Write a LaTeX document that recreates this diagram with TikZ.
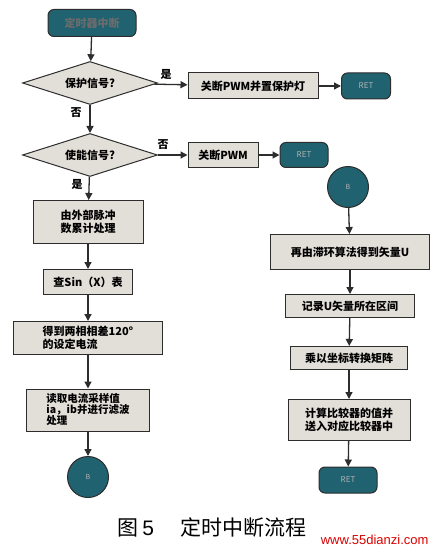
\documentclass[tikz,border=0pt]{standalone}
\usepackage{fontspec}
\setmainfont{Noto Sans CJK SC}
\newfontfamily\latinfont{Liberation Sans}
\usetikzlibrary{shapes.geometric, arrows.meta, positioning}

\definecolor{tealfill}{RGB}{32,98,112}
\definecolor{boxfill}{RGB}{226,222,216}
\definecolor{linecol}{RGB}{45,45,45}

\tikzset{
  proc/.style={draw=linecol, line width=1pt, fill=boxfill, font=\bfseries\fontsize{11}{12.5}\selectfont, inner sep=2pt},
  decide/.style={draw=linecol, line width=1pt, fill=boxfill, diamond, aspect=3.1, inner sep=0pt, minimum width=135pt, minimum height=43pt, font=\bfseries\fontsize{11}{12}\selectfont},
  term/.style={draw=linecol, line width=1pt, fill=tealfill, rounded corners=6pt, font=\fontsize{8}{9}\selectfont, text=gray!60},
  joint/.style={draw=linecol, line width=1pt, fill=tealfill, circle, minimum size=41pt, inner sep=0pt, font=\fontsize{7}{8}\selectfont, text=gray!60},
  flow/.style={draw=linecol, line width=1.3pt, -{Triangle[length=7pt, width=7pt]}},
  tag/.style={font=\bfseries\fontsize{11}{12}\selectfont}
}

\begin{document}
\begin{tikzpicture}[x=1pt, y=-1pt]
  \useasboundingbox (0,0) rectangle (436,556);
  \fill[white] (0,0) rectangle (436,556);

  % left column
  \node[term, minimum width=88pt, minimum height=27pt, font=\bfseries\fontsize{11}{12}\selectfont, text=linecol!70] (start) at (92,23) {定时器中断};
  \node[decide] (prot) at (90,83) {保护信号?};
  \node[decide] (enab) at (90,155) {使能信号?};
  \node[proc, minimum width=110pt, minimum height=43pt, align=center] (count) at (88,222) {由外部脉冲\\数累计处理};
  \node[proc, minimum width=89pt, minimum height=25pt] (table) at (88,282) {查Sin（X）表};
  \node[proc, minimum width=149pt, minimum height=33pt, align=left] (setcur) at (88,338) {得到两相相差120°\\的设定电流};
  \node[proc, minimum width=123pt, minimum height=42pt, align=left, font=\bfseries\fontsize{10.5}{11}\selectfont] (sample) at (88,410) {读取电流采样值\\ia，ib并进行滤波\\处理};
  \node[joint] (jumpB) at (88,477) {B};

  % right of the decisions
  \node[proc, minimum width=130pt, minimum height=26pt] (shutlamp) at (253,86) {关断PWM并置保护灯};
  \node[term, minimum width=49pt, minimum height=26pt] (ret1) at (366,86) {RET};
  \node[proc, minimum width=70pt, minimum height=25pt] (shut) at (223,155) {关断PWM};
  \node[term, minimum width=48pt, minimum height=25pt] (ret2) at (304,155) {RET};

  % right column
  \node[joint] (entryB) at (348,187) {B};
  \node[proc, minimum width=159pt, minimum height=35pt] (hyst) at (350,252) {再由滞环算法得到矢量U};
  \node[proc, minimum width=129pt, minimum height=23pt] (sector) at (350,306) {记录U矢量所在区间};
  \node[proc, minimum width=117pt, minimum height=23pt] (matrix) at (349,358) {乘以坐标转换矩阵};
  \node[proc, minimum width=122pt, minimum height=41pt, align=center] (compare) at (349,420) {计算比较器的值并\\送入对应比较器中};
  \node[term, minimum width=58pt, minimum height=26pt] (ret3) at (348,480) {RET};

  % connectors
  \draw[flow] (start) -- (prot);
  \draw[flow] (prot) -- (shutlamp);
  \draw[flow] (shutlamp) -- (ret1);
  \draw[flow] (prot) -- (enab);
  \draw[flow] (enab) -- (shut);
  \draw[flow] (shut) -- (ret2);
  \draw[flow] (enab) -- (count);
  \draw[flow] (count) -- (table);
  \draw[flow] (table) -- (setcur);
  \draw[flow] (setcur) -- (sample);
  \draw[flow] (sample) -- (jumpB);
  \draw[flow] (entryB) -- (hyst);
  \draw[flow] (hyst) -- (sector);
  \draw[flow] (sector) -- (matrix);
  \draw[flow] (matrix) -- (compare);
  \draw[flow] (compare) -- (ret3);

  % branch labels
  \node[tag] (yes1) at (166,74) {是};
  \node[tag] (no1) at (76,113) {否};
  \node[tag] (no2) at (163,145) {否};
  \node[tag] (yes2) at (77,184) {是};

  % caption
  \node[font=\fontsize{21}{24}\selectfont] (caption) at (212,527) {图\,{\latinfont 5}\hspace{26pt}定时中断流程};
  \node[font=\latinfont\fontsize{13}{14}\selectfont, text=red!85!black, anchor=east] (site) at (432,540) {www.55dianzi.com};
\end{tikzpicture}
\end{document}
